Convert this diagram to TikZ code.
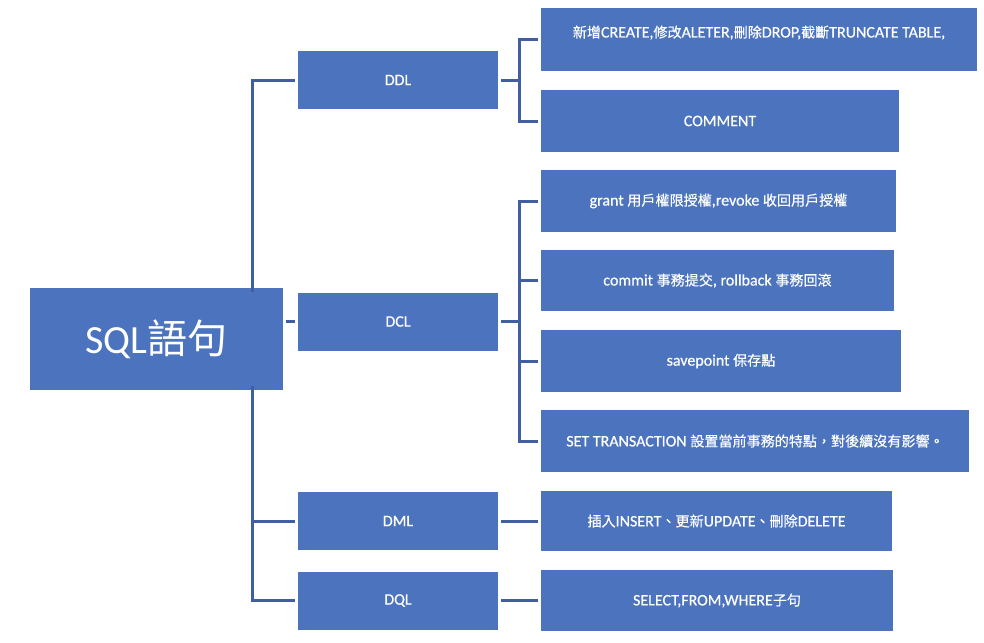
\documentclass[tikz,border=0pt]{standalone}
\usepackage{fontspec}
\setmainfont{Carlito}[RawFeature={embolden=0.6}]
\newfontfamily\rootlat{Carlito}
\newfontfamily\cjk{Noto Sans CJK TC}[Scale=0.88,RawFeature={embolden=0.4}]
\newfontfamily\cjkroot{Noto Sans CJK TC}
\newcommand{\zh}[1]{{\cjk #1}}
\definecolor{boxblue}{RGB}{75,115,190}
\definecolor{lineblue}{RGB}{64,94,160}
\begin{document}
\begin{tikzpicture}[x=1pt,y=-1pt,
  box/.style={fill=boxblue,draw=none,text=white,inner sep=0pt,anchor=center,font=\fontsize{16}{18}\selectfont},
  root/.style={box,minimum width=253pt,minimum height=102pt,font=\fontsize{40}{44}\selectfont\rootlat},
  mid/.style={box,minimum width=200pt,minimum height=58pt},
  conn/.style={draw=lineblue,line width=3pt}]
\useasboundingbox (0,0) rectangle (984,642);
% root
\node[root] (sql) at (156.5,339) {SQL{\cjkroot 語句}};
% mid level
\node[mid] (ddl) at (398,80) {DDL};
\node[mid] (dcl) at (398,321.5) {DCL};
\node[mid] (dml) at (398,521) {DML};
\node[mid] (dql) at (398,600.5) {DQL};
% leaves
\node[box,minimum width=436pt,minimum height=63pt,text depth=16pt] (l1) at (759,39.5) {\zh{新增}CREATE,\zh{修改}ALETER,\zh{刪除}DROP,\zh{截斷}TRUNCATE TABLE,};
\node[box,minimum width=358pt,minimum height=62pt] (l2) at (720,121) {COMMENT};
\node[box,minimum width=355pt,minimum height=62pt] (l3) at (718.5,201) {grant \zh{用戶權限授權},revoke \zh{收回用戶授權}};
\node[box,minimum width=353pt,minimum height=61pt] (l4) at (717.5,280.5) {commit \zh{事務提交}, rollback \zh{事務回滾}};
\node[box,minimum width=360pt,minimum height=62pt] (l5) at (721,361) {savepoint \zh{保存點}};
\node[box,minimum width=428pt,minimum height=62pt] (l6) at (755,441) {SET TRANSACTION \zh{設置當前事務的特點，對後續沒有影響。}};
\node[box,minimum width=351pt,minimum height=60pt] (l7) at (716.5,521) {\zh{插入}INSERT\zh{、更新}UPDATE\zh{、刪除}DELETE};
\node[box,minimum width=352pt,minimum height=61pt] (l8) at (717,600.5) {SELECT,FROM,WHERE\zh{子句}};
% coordinates for connector routing
\coordinate (tl) at (252,0);
\coordinate (tr) at (519,0);
% root to mid
\draw[conn] ([yshift=-4pt]sql.north -| tl) -- (tl |- ddl.west) -- ([xshift=-3pt]ddl.west);
\draw[conn] ([xshift=3pt]sql.east |- dcl.west) -- ([xshift=-3pt]dcl.west);
\draw[conn] ([yshift=4pt]sql.south -| tl) -- (tl |- dql.west) -- ([xshift=-3pt]dql.west);
\draw[conn] (tl |- dml.west) -- ([xshift=-3pt]dml.west);
% DDL to leaves
\draw[conn] ([xshift=3pt]ddl.east) -- (tr |- ddl.east);
\draw[conn] ([xshift=-3pt]l1.west) -- (tr |- l1.west) -- (tr |- l2.west) -- ([xshift=-3pt]l2.west);
% DCL to leaves
\draw[conn] ([xshift=3pt]dcl.east) -- (tr |- dcl.east);
\draw[conn] ([xshift=-3pt]l3.west) -- (tr |- l3.west) -- (tr |- l6.west) -- ([xshift=-3pt]l6.west);
\draw[conn] (tr |- l4.west) -- ([xshift=-3pt]l4.west);
\draw[conn] (tr |- l5.west) -- ([xshift=-3pt]l5.west);
% DML, DQL
\draw[conn] ([xshift=3pt]dml.east) -- ([xshift=-3pt]l7.west);
\draw[conn] ([xshift=3pt]dql.east) -- ([xshift=-3pt]l8.west);
\end{tikzpicture}
\end{document}
